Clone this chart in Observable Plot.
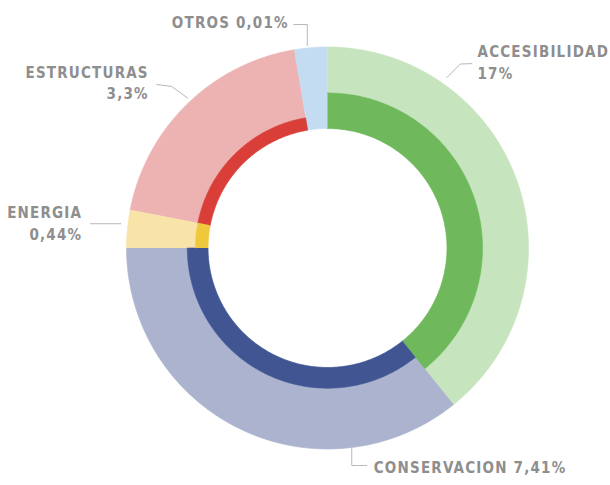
<!DOCTYPE html>
<html><head><meta charset="utf-8">
<script src="https://cdn.jsdelivr.net/npm/d3@7"></script>
<script src="https://cdn.jsdelivr.net/npm/@observablehq/plot@0.6"></script>
<style>html,body{margin:0;padding:0;background:#fff}</style>
</head><body><div id="chart"></div>
<script>
// ---- data ----
const categories = ["ACCESIBILIDAD", "CONSERVACION", "ENERGIA", "ESTRUCTURAS", "OTROS"];
const percentLabels = ["17%", "7,41%", "0,44%", "3,3%", "0,01%"];
const values = [17, 7.41, 0.44, 3.3, 0.01];          // inner band value
const ringShare = [39.2, 35.8, 3.05, 19.3, 2.65];    // outer ring share of the circle (%)
const lightColors = ["#c6e4be", "#abb3ce", "#f8e4a8", "#ecb3b2", "#c4dcf2"];
const darkColors  = ["#6fb85c", "#405592", "#efc83c", "#d93f38", "#8fb8e0"];

// ---- layout ----
const W = 610, H = 485, CX = 327, CY = 247.5;
const R_OUT = 201, R_IN = 119.5;
const bandScale = d3.scalePow().exponent(0.65).domain([0, d3.max(values)]).range([0, 35.5]);
const band = v => v < 0.1 ? 0 : Math.max(12.5, bandScale(v));

const total = d3.sum(ringShare);
const starts = d3.cumsum([0, ...ringShare]).map(s => s / total * 2 * Math.PI);

function arcPoly(id, a0, a1, r0, r1, fill) {
  const n = Math.max(2, Math.ceil((a1 - a0) / (Math.PI / 360)));
  const pts = [];
  for (let i = 0; i <= n; i++) { const a = a0 + (a1 - a0) * i / n; pts.push({id, fill, x: r1 * Math.sin(a), y: r1 * Math.cos(a)}); }
  for (let i = n; i >= 0; i--) { const a = a0 + (a1 - a0) * i / n; pts.push({id, fill, x: r0 * Math.sin(a), y: r0 * Math.cos(a)}); }
  return pts;
}
const outerPts = categories.flatMap((c, i) => arcPoly("o" + i, starts[i], starts[i + 1], R_IN, R_OUT, lightColors[i]));
const innerPts = categories.flatMap((c, i) => band(values[i]) > 0 ? arcPoly("i" + i, starts[i], starts[i + 1], R_IN, R_IN + band(values[i]), darkColors[i]) : []);

// annotation layout: leader start angle (deg, clockwise from top), radius, elbow offsets (px, y down), text offset
const leaderLayout = {
  ACCESIBILIDAD: {angle: 35,    r: 208,   path: [[13.5, -13.6], [25, -14]],   text: [30.7, 1.2],   anchor: "start"},
  CONSERVACION:  {angle: 173,   r: 199,   path: [[0, 20], [15, 20]],          text: [22, 27],      anchor: "start"},
  ENERGIA:       {angle: 276.7, r: 208,   path: [[-30.4, 0]],                 text: [-38.7, 16.1], anchor: "end"},
  ESTRUCTURAS:   {angle: 317,   r: 205,   path: [[-16, -11.6], [-31, -13.6]], text: [-38.9, 1.4],  anchor: "end"},
  OTROS:         {angle: 354.3, r: 203.5, path: [[0, -21], [-13.5, -21]],     text: [-18.5, -18],  anchor: "end"}
};
const leaderPts = [], labelRows = [];
categories.forEach((c, i) => {
  const L = leaderLayout[c];
  const a = L.angle * Math.PI / 180;
  const sx = L.r * Math.sin(a), sy = L.r * Math.cos(a);
  leaderPts.push({id: c, x: sx, y: sy});
  L.path.forEach(([dx, dy]) => leaderPts.push({id: c, x: sx + dx, y: sy - dy}));
  const sep = (c === "CONSERVACION" || c === "OTROS") ? " " : "\n";
  labelRows.push({x: sx + L.text[0], y: sy - L.text[1], text: c + sep + percentLabels[i], anchor: L.anchor});
});

const font = {fontFamily: "DejaVu Sans Condensed", fontWeight: "bold", fontSize: 15, fill: "#8e8e8e", lineAnchor: "bottom", lineHeight: 1.45};
const chart = Plot.plot({
  width: W, height: H, margin: 0,
  x: {domain: [-CX, W - CX], axis: null},
  y: {domain: [CY - H, CY], axis: null},
  color: {type: "identity"},
  style: {background: "#fff", letterSpacing: "1.2px"},
  marks: [
    Plot.line(outerPts, {x: "x", y: "y", z: "id", fill: "fill", stroke: "fill", strokeWidth: 0.6}),
    Plot.line(innerPts, {x: "x", y: "y", z: "id", fill: "fill", stroke: "fill", strokeWidth: 0.6}),
    Plot.line(leaderPts, {x: "x", y: "y", z: "id", stroke: "#b8b8b8", strokeWidth: 1}),
    Plot.text(labelRows.filter(d => d.anchor === "start"), {x: "x", y: "y", text: "text", textAnchor: "start", ...font}),
    Plot.text(labelRows.filter(d => d.anchor === "end"), {x: "x", y: "y", text: "text", textAnchor: "end", ...font})
  ]
});
document.getElementById("chart").appendChild(chart);
</script>
</body></html>
